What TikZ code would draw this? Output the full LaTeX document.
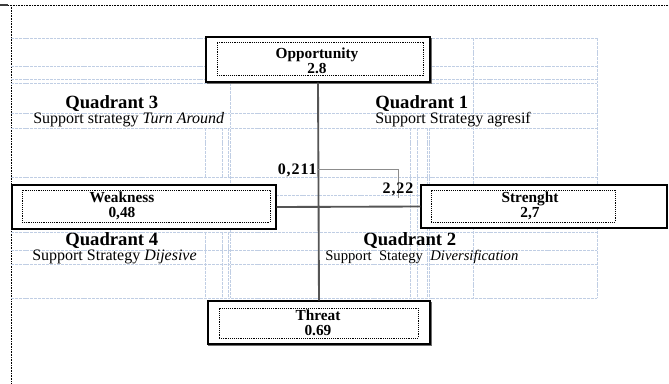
\documentclass[tikz,border=0pt]{standalone}
\usepackage{fontspec}
\setmainfont{Liberation Serif}
\begin{document}
\begin{tikzpicture}[x=0.75pt,y=-0.75pt,
  grid/.style={draw={rgb,255:red,192;green,206;blue,228}, line width=0.5pt, dash pattern=on 2.2pt off 0.7pt},
  outerbox/.style={draw=black, line width=1.1pt, fill=white, inner sep=0pt},
  shadowbox/.style={draw={rgb,255:red,110;green,110;blue,110}, line width=1.1pt, inner sep=0pt},
  innerbox/.style={draw=black, line width=0.6pt, dash pattern=on 0.7pt off 0.7pt, inner sep=0pt},
  boxtxt/.style={font=\fontsize{11.5}{11.3}\selectfont\bfseries, align=center, inner sep=0pt},
  quad/.style={font=\fontsize{14}{16}\selectfont\bfseries, anchor=west, inner sep=0pt},
  sub/.style={font=\fontsize{12}{14}\selectfont, anchor=west, inner sep=0pt},
  val/.style={font=\fontsize{12}{14}\selectfont\bfseries\addfontfeatures{LetterSpace=6}, inner sep=0pt},
  axis/.style={draw={rgb,255:red,85;green,85;blue,85}, line width=1.4pt},
  thin/.style={draw={rgb,255:red,140;green,140;blue,140}, line width=0.6pt}]
\useasboundingbox (0,0) rectangle (669,383);
\fill[white] (0,0) rectangle (669,383);

% page margin marks
\draw[line width=1.6pt, draw={rgb,255:red,60;green,60;blue,60}] (0,5) -- (8,5);
\draw[line width=0.5pt, dash pattern=on 0.6pt off 0.6pt] (8,5) -- (669,5);
\draw[line width=0.5pt, dash pattern=on 0.6pt off 0.6pt] (11,5) -- (11,383);

% table gridlines
\foreach \yy in {38,66,79,83,113,128,177,232,250,264,298}
  \draw[grid] (11,\yy) -- (597,\yy);
\draw[grid] (230,195) -- (597,195);
\foreach \xx in {473,597}
  \draw[grid] (\xx,38) -- (\xx,298);
\draw[grid] (230,83) -- (230,298);
\foreach \xx in {410,417,427,429}
  \draw[grid] (\xx,128) -- (\xx,298);
\foreach \xx in {205,222,228}
  {\draw[grid] (\xx,128) -- (\xx,177); \draw[grid] (\xx,232) -- (\xx,298);}

% boxes
\node[shadowbox, minimum width=168pt, minimum height=33.75pt] at (319.5,61) {};
\node[outerbox, minimum width=168pt, minimum height=33.75pt] (opp) at (318,59.5) {};
\node[innerbox, minimum width=154.5pt, minimum height=24.75pt] (oppin) at (320,58.5) {};
\node[boxtxt] (opptxt) at (317,60.5) {Opportunity\\2.8};

\node[shadowbox, minimum width=166.5pt, minimum height=32.25pt] at (320,324) {};
\node[outerbox, minimum width=166.5pt, minimum height=32.25pt] (thr) at (319,322.5) {};
\node[innerbox, minimum width=149.25pt, minimum height=22.5pt] (thrin) at (318.5,323) {};
\node[boxtxt] (thrtxt) at (318,322.5) {Threat\\0.69};

\node[outerbox, minimum width=198pt, minimum height=33pt] (wk) at (144,207) {};
\node[innerbox, minimum width=186pt, minimum height=24pt] (wkin) at (146,206) {};
\node[boxtxt] (wktxt) at (122,205.5) {Weakness\\0,48};

\node[outerbox, minimum width=184.5pt, minimum height=32.25pt] (str) at (544,206.5) {};
\node[innerbox, minimum width=138pt, minimum height=24pt] (strin) at (523,206) {};
\node[boxtxt] (strtxt) at (530,205.5) {Strenght\\2,7};

% axes
\draw[axis] (opp.south) -- (thr.north);
\draw[axis] (wk.east) -- (str.west);

% internal factor point
\coordinate (p211) at (318,169);
\coordinate (p222) at (398,198);
\draw[thin] (p211) -| (p222);
\node[val, anchor=east] (v211) at (317,170) {0,211};
\node[val] (v222) at (398,189) {2,22};

% quadrant labels
\node[quad] (q3) at (65,104) {Quadrant 3};
\node[sub] (s3) at (33,120) {Support strategy \textit{Turn Around}};
\node[quad] (q1) at (375,104) {Quadrant 1};
\node[sub] (s1) at (375,120) {Support Strategy agresif};
\node[quad] (q4) at (65,241) {Quadrant 4};
\node[sub] (s4) at (32,257) {Support Strategy \textit{Dijesive}};
\node[quad] (q2) at (363,241) {Quadrant 2};
\node[sub, font=\fontsize{11}{13}\selectfont] (s2) at (325,257) {Support\ \ Stategy\ \ \textit{Diversification}};
\end{tikzpicture}
\end{document}
